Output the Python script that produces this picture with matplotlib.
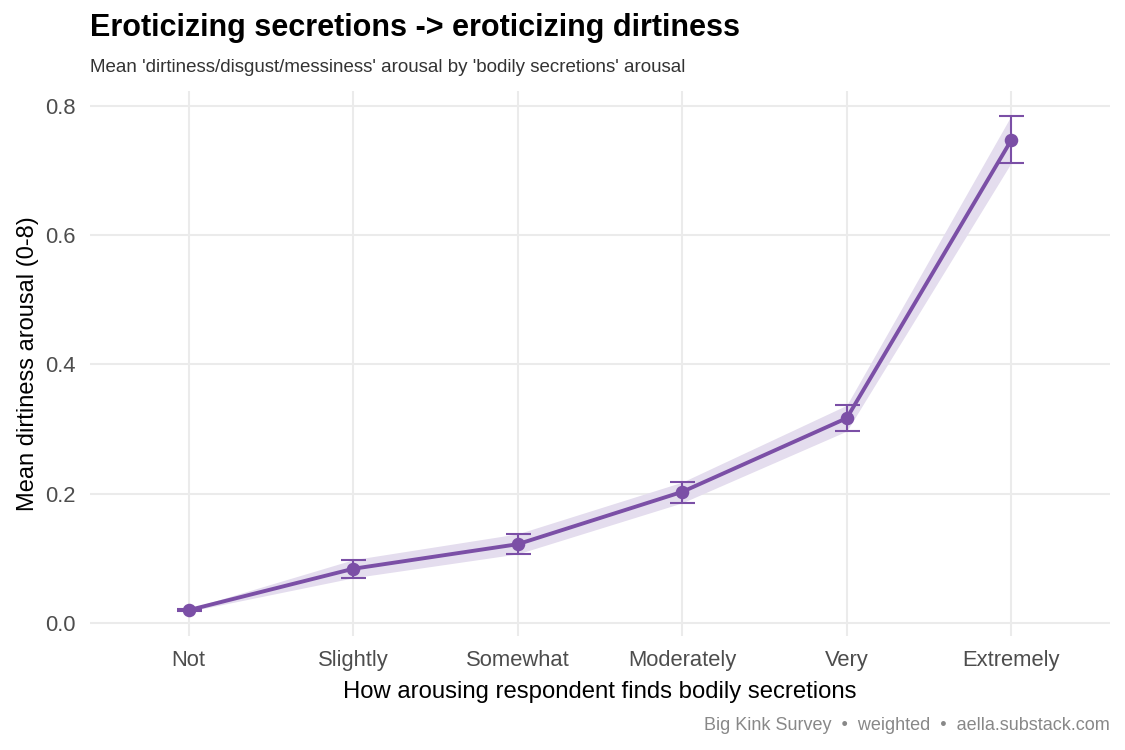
import numpy as np
import matplotlib.pyplot as plt

plt.rcParams['font.family'] = ['Liberation Sans', 'DejaVu Sans']

# data
levels = ['Not', 'Slightly', 'Somewhat', 'Moderately', 'Very', 'Extremely']
means = [0.020, 0.084, 0.122, 0.203, 0.317, 0.747]
lower = [0.018, 0.070, 0.107, 0.186, 0.297, 0.712]
upper = [0.022, 0.098, 0.138, 0.218, 0.337, 0.785]

purple = '#7B4FA6'
x = np.arange(1, len(levels) + 1)

fig = plt.figure(figsize=(11.25, 7.5), dpi=100)
ax = fig.add_axes([90 / 1125, 114 / 750, 1020 / 1125, 545 / 750])

ax.fill_between(x, lower, upper, color='#E4DDEE', lw=0, zorder=1)
ax.plot(x, means, color=purple, lw=2.8, zorder=3)
ax.errorbar(x, means, yerr=[np.array(means) - np.array(lower), np.array(upper) - np.array(means)],
            fmt='none', ecolor=purple, elinewidth=1.5, capsize=9, capthick=1.5, zorder=3)
ax.scatter(x, means, s=95, color=purple, zorder=4, linewidths=0)

ax.set_xlim(0.4, 6.6)
ax.set_ylim(-0.02, 0.823)
ax.set_xticks(x)
ax.set_xticklabels(levels)
ax.set_yticks([0, 0.2, 0.4, 0.6, 0.8])
ax.set_yticklabels(['0.0', '0.2', '0.4', '0.6', '0.8'])
ax.grid(True, color='#EBEBEB', lw=1.5)
ax.set_axisbelow(True)
for s in ax.spines.values():
    s.set_visible(False)
ax.tick_params(length=0, labelsize=15.8, labelcolor='#4D4D4D', pad=10)

ax.set_xlabel('How arousing respondent finds bodily secretions', fontsize=17.2, labelpad=7)
ax.set_ylabel('Mean dirtiness arousal (0-8)', fontsize=17, labelpad=5)

fig.text(90 / 1125, 1 - 28 / 750, 'Eroticizing secretions -> eroticizing dirtiness',
         fontsize=22, fontweight='bold', va='center', ha='left')
fig.text(90 / 1125, 1 - 68 / 750, "Mean 'dirtiness/disgust/messiness' arousal by 'bodily secretions' arousal",
         fontsize=13.5, color='#333333', va='center', ha='left')
fig.text(1110 / 1125, 1 - 725 / 750, 'Big Kink Survey  \u2022  weighted  \u2022  aella.substack.com',
         fontsize=13, color='#888888', va='center', ha='right')

fig.savefig('out.png', dpi=100)
